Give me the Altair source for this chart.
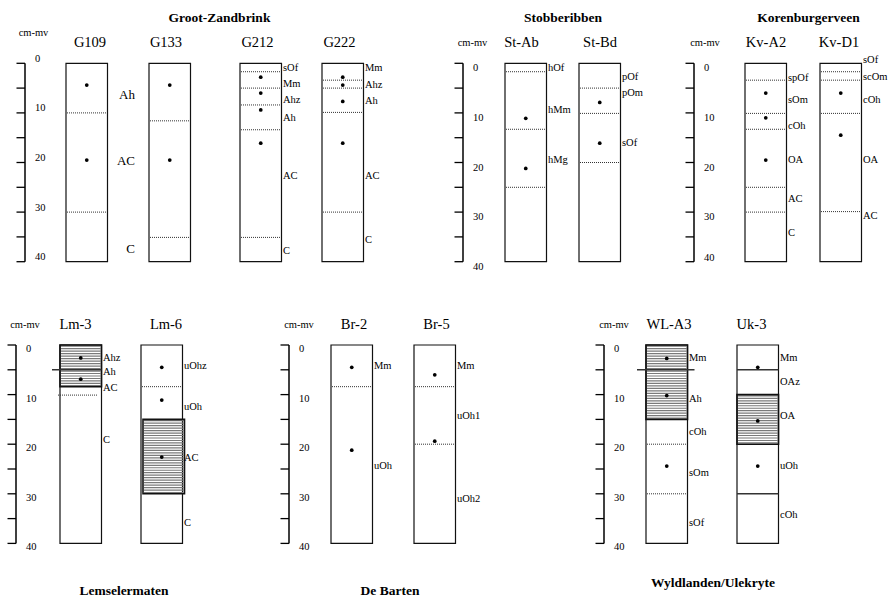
import altair as alt
import numpy as np
import pandas as pd

# ---------------------------------------------------------------------------
# Soil profile descriptions, depths in cm below surface (cm-mv)
# ---------------------------------------------------------------------------
TOP_SITES = ["Groot-Zandbrink", "Stobberibben", "Korenburgerveen"]
BOTTOM_SITES = ["Lemselermaten", "De Barten", "Wyldlanden/Ulekryte"]

SITE_PROFILES = {
    "Groot-Zandbrink": ["G109", "G133", "G212", "G222"],
    "Stobberibben": ["St-Ab", "St-Bd"],
    "Korenburgerveen": ["Kv-A2", "Kv-D1"],
    "Lemselermaten": ["Lm-3", "Lm-6"],
    "De Barten": ["Br-2", "Br-5"],
    "Wyldlanden/Ulekryte": ["WL-A3", "Uk-3"],
}

DEPTH_TICKS = [0, 5, 10, 15, 20, 25, 30, 35, 40]
DEPTH_TICK_LABELS = [0, 10, 20, 30, 40]
PROFILE_BOTTOM = 40

# gradual horizon boundaries (dotted)
DOTTED_BOUNDARIES = {
    "G109": [10.0, 30.0],
    "G133": [11.6, 35.1],
    "G212": [1.7, 5.0, 8.4, 13.4, 35.1],
    "G222": [3.4, 5.0, 9.9, 30.0],
    "St-Ab": [1.7, 13.3, 25.0],
    "St-Bd": [5.0, 10.1, 20.0],
    "Kv-A2": [3.4, 10.1, 13.3, 25.0, 30.0],
    "Kv-D1": [1.7, 3.4, 10.1, 29.9],
    "Lm-3": [10.1],
    "Lm-6": [8.4],
    "Br-2": [8.4],
    "Br-5": [8.4, 20.0],
    "WL-A3": [20.0, 30.0],
    "Uk-3": [],
}

# sharp horizon boundaries (solid)
SOLID_BOUNDARIES = {
    "Lm-3": [5.0],
    "WL-A3": [5.0],
    "Uk-3": [5.0, 30.0],
}

# hatched (loamy) layers: (top, bottom)
HATCHED_LAYERS = {
    "Lm-3": [(0.0, 8.4)],
    "Lm-6": [(15.0, 30.0)],
    "WL-A3": [(0.0, 15.0)],
    "Uk-3": [(10.0, 20.0)],
}

# sampling depths
SAMPLE_DEPTHS = {
    "G109": [4.4, 19.5],
    "G133": [4.4, 19.5],
    "G212": [2.8, 6.0, 9.4, 16.1],
    "G222": [2.8, 4.4, 7.7, 16.1],
    "St-Ab": [11.1, 21.2],
    "St-Bd": [7.9, 16.1],
    "Kv-A2": [6.0, 11.0, 19.5],
    "Kv-D1": [6.0, 14.5],
    "Lm-3": [2.6, 6.9],
    "Lm-6": [4.5, 11.1, 22.6],
    "Br-2": [4.5, 21.2],
    "Br-5": [6.0, 19.4],
    "WL-A3": [2.7, 10.2, 24.4],
    "Uk-3": [4.5, 15.3, 24.4],
}

# horizon codes and the depth at which each is written
HORIZON_NAMES = {
    "G109": ["Ah", "AC", "C"],
    "G212": ["sOf", "Mm", "Ahz", "Ah", "AC", "C"],
    "G222": ["Mm", "Ahz", "Ah", "AC", "C"],
    "St-Ab": ["hOf", "hMm", "hMg"],
    "St-Bd": ["pOf", "pOm", "sOf"],
    "Kv-A2": ["spOf", "sOm", "cOh", "OA", "AC", "C"],
    "Kv-D1": ["sOf", "scOm", "cOh", "OA", "AC"],
    "Lm-3": ["Ahz", "Ah", "AC", "C"],
    "Lm-6": ["uOhz", "uOh", "AC", "C"],
    "Br-2": ["Mm", "uOh"],
    "Br-5": ["Mm", "uOh1", "uOh2"],
    "WL-A3": ["Mm", "Ah", "cOh", "sOm", "sOf"],
    "Uk-3": ["Mm", "OAz", "OA", "uOh", "cOh"],
}
HORIZON_LABEL_DEPTHS = {
    "G109": [6.3, 19.7, 37.5],
    "G212": [1.0, 4.2, 7.4, 11.0, 22.7, 37.8],
    "G222": [1.0, 4.4, 7.6, 22.7, 35.6],
    "St-Ab": [1.0, 9.4, 19.5],
    "St-Bd": [2.7, 6.0, 16.0],
    "Kv-A2": [2.9, 7.4, 12.6, 19.4, 27.4, 34.3],
    "Kv-D1": [-0.7, 2.8, 7.4, 19.4, 30.8],
    "Lm-3": [2.6, 5.5, 8.7, 19.2],
    "Lm-6": [4.2, 12.6, 22.7, 35.9],
    "Br-2": [4.2, 24.3],
    "Br-5": [4.2, 14.3, 31.0],
    "WL-A3": [2.6, 10.9, 17.6, 25.9, 35.9],
    "Uk-3": [2.6, 7.5, 14.3, 24.3, 34.2],
}

# ---------------------------------------------------------------------------
# Layout (horizontal positions in px along an 888 px wide x scale)
# ---------------------------------------------------------------------------
PLOT_W = 888
ROW_H = {"top": 300, "bottom": 299}
SURFACE_PX = {"top": 63.3, "bottom": 45.0}
PX_PER_CM = 4.96
BOX_W = 41.5
TICK_LEN = 8.5
FONT = "Liberation Serif"

BOX_LEFT = {
    "G109": 66, "G133": 149, "G212": 240, "G222": 322,
    "St-Ab": 505, "St-Bd": 579, "Kv-A2": 745, "Kv-D1": 820,
    "Lm-3": 60, "Lm-6": 141, "Br-2": 331, "Br-5": 414,
    "WL-A3": 646, "Uk-3": 737,
}
NAME_X = {
    "G109": 90, "G133": 166, "G212": 257.5, "G222": 339.5,
    "St-Ab": 521.5, "St-Bd": 600, "Kv-A2": 766, "Kv-D1": 839,
    "Lm-3": 75.5, "Lm-6": 166, "Br-2": 354, "Br-5": 436.5,
    "WL-A3": 669, "Uk-3": 751.5,
}
NAME_Y = {"top": 43, "bottom": 25}

AXIS_X = {
    "Groot-Zandbrink": 25, "Stobberibben": 463, "Korenburgerveen": 694,
    "Lemselermaten": 16, "De Barten": 289, "Wyldlanden/Ulekryte": 604,
}
TICK_LABEL_DY = {
    "Groot-Zandbrink": -4.5, "Stobberibben": 5, "Korenburgerveen": 5,
    "Lemselermaten": 4, "De Barten": 4, "Wyldlanden/Ulekryte": 4,
}
TICK_LABEL_DY_OVERRIDE = {("Korenburgerveen", 40): -4}
UNIT_POS = {
    "Groot-Zandbrink": (33.5, 33), "Stobberibben": (472.5, 43),
    "Korenburgerveen": (705, 43), "Lemselermaten": (25, 25),
    "De Barten": (299, 25), "Wyldlanden/Ulekryte": (614, 25),
}
TITLE_POS = {
    "Groot-Zandbrink": (219.5, 18), "Stobberibben": (563, 18),
    "Korenburgerveen": (808.5, 18), "Lemselermaten": (124, 291),
    "De Barten": (390, 291), "Wyldlanden/Ulekryte": (713, 283),
}
# horizon codes written large, right-aligned between two columns
BIG_LABEL_RIGHT = {"G109": 135}
DOTTED_SHIFT = {"Lm-3": -3}
HATCH_SHIFT = {"Lm-6": 2}
SOLID_OVERHANG = {("Lm-3", 5.0): (8, 0), ("WL-A3", 5.0): (9, 7)}

XS = alt.Scale(domain=[0, PLOT_W], nice=False, zero=False)


def X(f):
    return alt.X(f"{f}:Q", scale=XS, axis=None)


def build_row(sites, key):
    h = ROW_H[key]
    s0 = SURFACE_PX[key]
    ys = alt.Scale(domain=[-s0 / PX_PER_CM, (h - s0) / PX_PER_CM],
                   reverse=True, nice=False, zero=False)

    def Y(f):
        return alt.Y(f"{f}:Q", scale=ys, axis=None)

    profiles = [p for s in sites for p in SITE_PROFILES[s]]

    boxes, dotted, solid, hatch, hatch_lines = [], [], [], [], []
    samples, small_lbl, big_lbl, names = [], [], [], []
    for p in profiles:
        left = BOX_LEFT[p]
        right = left + BOX_W
        boxes.append(dict(x0=left, x1=right, top=0, bottom=PROFILE_BOTTOM))
        sh = DOTTED_SHIFT.get(p, 0)
        for d in DOTTED_BOUNDARIES.get(p, []):
            dotted.append(dict(x0=left + 1 + sh, x1=right - 1 + sh, depth=d))
        for d in SOLID_BOUNDARIES.get(p, []):
            ol, orr = SOLID_OVERHANG.get((p, d), (0, 0))
            solid.append(dict(x0=left - ol, x1=right + orr, depth=d))
        hs = HATCH_SHIFT.get(p, 0)
        for top, bot in HATCHED_LAYERS.get(p, []):
            hatch.append(dict(x0=left + hs, x1=right + hs, top=top, bottom=bot))
            for d in np.arange(top + 0.25, bot, 0.5):
                hatch_lines.append(dict(x0=left + hs + 1, x1=right + hs - 1, depth=float(d)))
        for d in SAMPLE_DEPTHS.get(p, []):
            samples.append(dict(x=left + BOX_W / 2, depth=d))
        for t, d in zip(HORIZON_NAMES.get(p, []), HORIZON_LABEL_DEPTHS.get(p, [])):
            if p in BIG_LABEL_RIGHT:
                big_lbl.append(dict(x=BIG_LABEL_RIGHT[p], depth=d, text=t))
            else:
                small_lbl.append(dict(x=right + 1.5, depth=d, text=t))
        names.append(dict(x=NAME_X[p], text=p))

    axis_lines, ticks, tick_lbls, units, titles = [], [], [], [], []
    for s in sites:
        ax = AXIS_X[s]
        axis_lines.append(dict(x=ax, top=0, bottom=PROFILE_BOTTOM))
        for d in DEPTH_TICKS:
            ticks.append(dict(x0=ax - TICK_LEN, x1=ax, depth=d))
        for d in DEPTH_TICK_LABELS:
            dy = TICK_LABEL_DY_OVERRIDE.get((s, d), TICK_LABEL_DY[s])
            tick_lbls.append(dict(x=ax + 10, depth=d, text=str(d), dy=dy))
        units.append(dict(x=UNIT_POS[s][0], y=UNIT_POS[s][1], text="cm-mv"))
        titles.append(dict(x=TITLE_POS[s][0], y=TITLE_POS[s][1], text=s))

    layers = []
    # profile columns
    layers.append(alt.Chart(pd.DataFrame(boxes)).mark_rect(
        fill="white", stroke="#111111", strokeWidth=1.2).encode(
        x=X("x0"), x2="x1", y=Y("top"), y2="bottom"))
    if hatch:
        layers.append(alt.Chart(pd.DataFrame(hatch_lines)).mark_rule(
            stroke="#7a7a7a", strokeWidth=1.2).encode(x=X("x0"), x2="x1", y=Y("depth")))
        layers.append(alt.Chart(pd.DataFrame(hatch)).mark_rect(
            fillOpacity=0, stroke="#111111", strokeWidth=1.6).encode(
            x=X("x0"), x2="x1", y=Y("top"), y2="bottom"))
    if dotted:
        layers.append(alt.Chart(pd.DataFrame(dotted)).mark_rule(
            stroke="#333333", strokeWidth=1, strokeDash=[1, 1]).encode(
            x=X("x0"), x2="x1", y=Y("depth")))
    if solid:
        layers.append(alt.Chart(pd.DataFrame(solid)).mark_rule(
            stroke="#333333", strokeWidth=1.5).encode(
            x=X("x0"), x2="x1", y=Y("depth")))
    layers.append(alt.Chart(pd.DataFrame(samples)).mark_circle(
        color="black", size=14, opacity=1).encode(x=X("x"), y=Y("depth")))
    if small_lbl:
        layers.append(alt.Chart(pd.DataFrame(small_lbl)).mark_text(
            font=FONT, fontSize=10.5, align="left", baseline="middle", color="black").encode(
            x=X("x"), y=Y("depth"), text="text:N"))
    if big_lbl:
        layers.append(alt.Chart(pd.DataFrame(big_lbl)).mark_text(
            font=FONT, fontSize=13, align="right", baseline="middle", color="black").encode(
            x=X("x"), y=Y("depth"), text="text:N"))
    layers.append(alt.Chart(pd.DataFrame(names)).mark_text(
        font=FONT, fontSize=14.5, align="center", baseline="middle", color="black").encode(
        x=X("x"), y=alt.value(NAME_Y[key]), text="text:N"))

    # depth scales
    layers.append(alt.Chart(pd.DataFrame(axis_lines)).mark_rule(
        color="black", strokeWidth=1.5).encode(x=X("x"), y=Y("top"), y2="bottom"))
    layers.append(alt.Chart(pd.DataFrame(ticks)).mark_rule(
        color="black", strokeWidth=1.3).encode(x=X("x0"), x2="x1", y=Y("depth")))
    tl = pd.DataFrame(tick_lbls)
    for dy, grp in tl.groupby("dy"):
        layers.append(alt.Chart(grp.drop(columns="dy")).mark_text(
            font=FONT, fontSize=10.5, align="left", baseline="middle", dy=float(dy),
            color="black").encode(x=X("x"), y=Y("depth"), text="text:N"))
    un = pd.DataFrame(units)
    for yv, grp in un.groupby("y"):
        layers.append(alt.Chart(grp.drop(columns="y")).mark_text(
            font=FONT, fontSize=10.5, align="center", baseline="middle", color="black").encode(
            x=X("x"), y=alt.value(float(yv)), text="text:N"))
    tt = pd.DataFrame(titles)
    for yv, grp in tt.groupby("y"):
        layers.append(alt.Chart(grp.drop(columns="y")).mark_text(
            font=FONT, fontSize=13.5, fontWeight="bold", align="center", baseline="middle",
            color="black").encode(x=X("x"), y=alt.value(float(yv)), text="text:N"))

    return alt.layer(*layers).properties(width=PLOT_W, height=h)


top_row = build_row(TOP_SITES, "top")
bottom_row = build_row(BOTTOM_SITES, "bottom")

chart = alt.vconcat(top_row, bottom_row, spacing=0).properties(
    padding=0, background="white"
).configure_view(stroke=None)

chart.save("out.html", embed_options={"renderer": "svg", "actions": False})
